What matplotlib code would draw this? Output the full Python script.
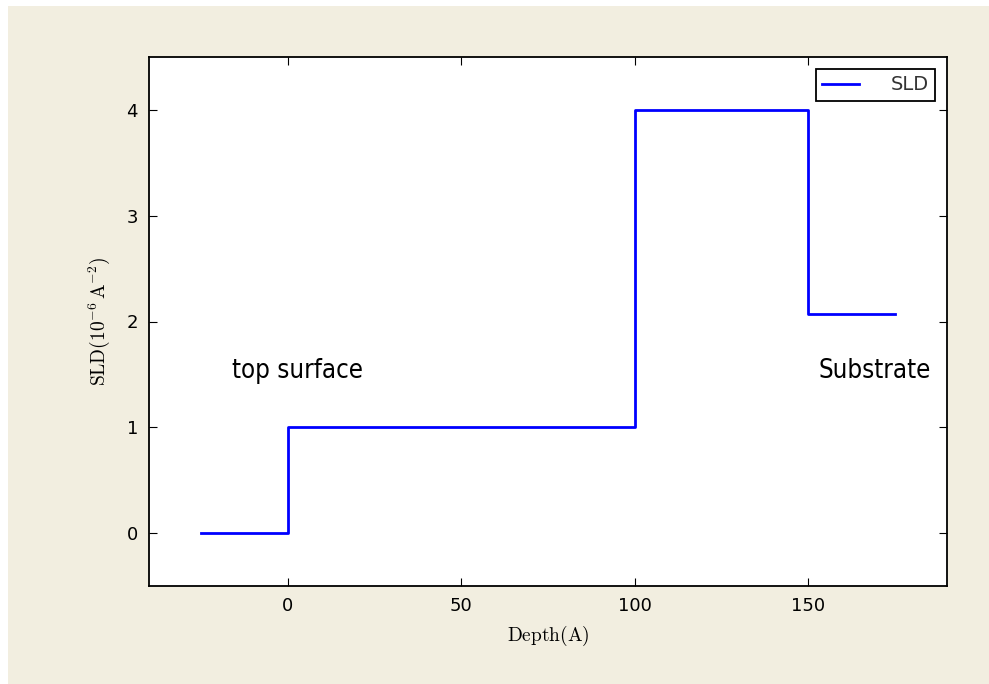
import numpy as np
import matplotlib
matplotlib.use('Agg')
import matplotlib.pyplot as plt
from matplotlib.patches import Rectangle
from matplotlib import font_manager

plt.rcParams['mathtext.fontset'] = 'cm'

# layer profile: depth edges and SLD values
depth = [-25, 0, 100, 150, 175]
sld = [0, 1, 4, 2.07, 2.07]
xticks = [0, 50, 100, 150]
yticks = [0, 1, 2, 3, 4]

bg = '#f2eee0'

fig = plt.figure(figsize=(9.89, 6.84), dpi=100, facecolor='white')
# backdrop, leaving a thin white border at left/top
fig.patches.append(Rectangle((8 / 989, 0), 1, 1 - 6 / 684, transform=fig.transFigure,
                             facecolor=bg, edgecolor='none', zorder=-10))

ax = fig.add_axes([149 / 989, 1 - 586 / 684, (947 - 149) / 989, (586 - 57) / 684])
ax.step(depth, sld, where='post', color='blue', lw=2, label='SLD')

ax.set_xlim(-40, 190)
ax.set_ylim(-0.5, 4.5)
ax.set_xticks(xticks)
ax.set_yticks(yticks)
ax.tick_params(direction='in', top=True, right=True, length=6, labelsize=13, pad=8)
for s in ax.spines.values():
    s.set_linewidth(1.3)

ax.set_xlabel(r'$\mathrm{Depth(A)}$', fontsize=14, labelpad=6)
ax.set_ylabel(r'$\mathrm{SLD(10^{-6}\,A^{-2})}$', fontsize=14, labelpad=10)

# condensed face for the annotations
fp = font_manager.FontProperties(family='DejaVu Sans', stretch='condensed', size=18.5)
ax.text(-16, 1.53, 'top surface', fontproperties=fp, va='center', ha='left')
ax.text(153, 1.53, 'Substrate', fontproperties=fp, va='center', ha='left')

leg = ax.legend(loc='upper right', fontsize=14, fancybox=False, framealpha=1,
                edgecolor='black', handlelength=1.9, handletextpad=1.6,
                borderaxespad=0.6, borderpad=0.35)
leg.get_frame().set_linewidth(1.3)
for t in leg.get_texts():
    t.set_color('#333333')

fig.savefig('out.png', dpi=100, facecolor=fig.get_facecolor())
